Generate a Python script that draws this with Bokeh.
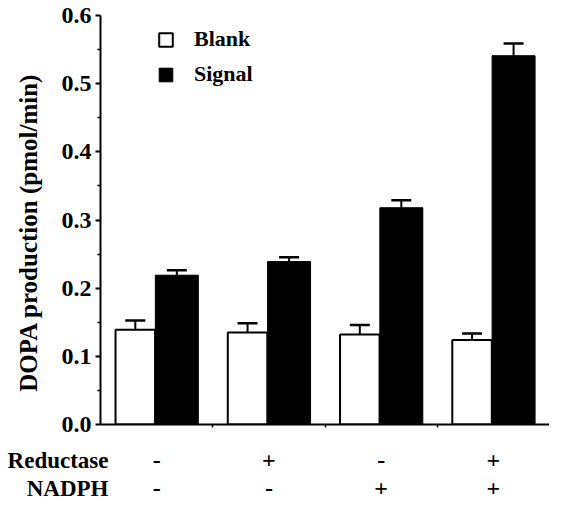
from bokeh.plotting import figure
from bokeh.layouts import column
from bokeh.models import (ColumnDataSource, Whisker, TeeHead, Legend, LegendItem,
                          FixedTicker, Range1d)
from bokeh.core.properties import value
from bokeh.embed import file_html
from bokeh.resources import INLINE

# ---- data ----
reductase = ["-", "+", "-", "+"]
nadph = ["-", "-", "+", "+"]
blank = [0.139, 0.135, 0.132, 0.124]
blank_err = [0.0135, 0.0135, 0.014, 0.0095]
signal = [0.219, 0.239, 0.318, 0.541]
signal_err = [0.0072, 0.0064, 0.011, 0.018]
yticks = [0.0, 0.1, 0.2, 0.3, 0.4, 0.5, 0.6]
yminor = [0.05, 0.15, 0.25, 0.35, 0.45, 0.55]
ytick_labels = ["0.0", "0.1", "0.2", "0.3", "0.4", "0.5", "0.6"]
row_names = ["Reductase", "NADPH"]
series_names = ["Blank", "Signal"]
y_title = "DOPA production (pmol/min)"

FONT = "Liberation Serif"
W = 549
ML, MT, MB = 100, 15, 14
FRAME_W = W - ML
FRAME_H = 409
H2 = 500 - (MT + FRAME_H + MB)

n = len(blank)
centers = [i + 0.5 for i in range(n)]
bx = [c - 0.19 for c in centers]
sx = [c + 0.18 for c in centers]

p = figure(frame_width=FRAME_W, frame_height=FRAME_H, output_backend="svg",
           toolbar_location=None,
           x_range=Range1d(0, n), y_range=Range1d(yticks[0], yticks[-1]),
           min_border_left=ML, min_border_right=0, min_border_top=MT,
           min_border_bottom=MB)
p.outline_line_color = None
p.xgrid.visible = False
p.ygrid.visible = False

src_b = ColumnDataSource(dict(x=bx, top=blank, up=[v + e for v, e in zip(blank, blank_err)]))
src_s = ColumnDataSource(dict(x=sx, top=signal, up=[v + e for v, e in zip(signal, signal_err)]))

rb = p.vbar(x="x", top="top", bottom=0, width=0.352, source=src_b,
            fill_color="white", line_color="black", line_width=2)
rs = p.vbar(x="x", top="top", bottom=0, width=0.383, source=src_s,
            fill_color="black", line_color="black", line_width=1)

for src in (src_b, src_s):
    p.add_layout(Whisker(base="x", lower="top", upper="up", source=src,
                         dimension="height", line_color="black", line_width=2,
                         lower_head=None,
                         upper_head=TeeHead(size=20, line_color="black", line_width=2.5),
                         level="overlay"))

# y axis
ya = p.yaxis[0]
ya.ticker = FixedTicker(ticks=yticks, minor_ticks=yminor)
ya.major_label_overrides = {t: l for t, l in zip(yticks, ytick_labels)}
ya.axis_line_width = 2
ya.axis_line_color = "black"
ya.major_tick_line_width = 2
ya.major_tick_out = 5
ya.major_tick_in = 0
ya.minor_tick_out = 3
ya.minor_tick_in = 0
ya.minor_tick_line_width = 1.5
ya.major_label_standoff = 4
ya.major_label_text_font = FONT
ya.major_label_text_font_style = "bold"
ya.major_label_text_font_size = "24px"
ya.major_label_text_color = "black"
ya.axis_label = y_title + "\u00a0\u00a0\u00a0\u00a0"
ya.axis_label_text_font = FONT
ya.axis_label_text_font_style = "bold"
ya.axis_label_text_font_size = "25px"
ya.axis_label_text_color = "black"
ya.axis_label_standoff = 17

# x axis
xa = p.xaxis[0]
xa.ticker = FixedTicker(ticks=[1, 2, 3], minor_ticks=[])
xa.major_label_overrides = {1: "", 2: "", 3: ""}
xa.major_label_text_font_size = "1px"
xa.major_label_standoff = 0
xa.axis_line_width = 2
xa.axis_line_color = "black"
xa.major_tick_out = 3
xa.major_tick_in = 0
xa.major_tick_line_width = 1.5
xa.minor_tick_out = 0
xa.minor_tick_in = 0

# legend
legend = Legend(items=[LegendItem(label=series_names[0], renderers=[rb]),
                       LegendItem(label=series_names[1], renderers=[rs])],
                location=(57, FRAME_H - 13 - 59), orientation="vertical",
                glyph_width=17, glyph_height=17, label_height=17,
                label_standoff=20, spacing=9,
                padding=0, margin=0, border_line_color=None, background_fill_alpha=0,
                label_text_font=FONT, label_text_font_style="bold",
                label_text_font_size="22px", label_text_color="black")
p.add_layout(legend)

# condition rows below the axis (second strip sharing the x scale)
row_y = [22, 50]
p2 = figure(width=W, height=H2, output_backend="svg", toolbar_location=None,
            x_range=p.x_range, y_range=Range1d(H2, 0),
            x_axis_type=None, min_border_left=ML, min_border_right=0,
            min_border_top=0, min_border_bottom=0)
p2.outline_line_color = None
p2.grid.visible = False
ra = p2.yaxis[0]
ra.ticker = FixedTicker(ticks=row_y, minor_ticks=[])
ra.major_label_overrides = {y: t for y, t in zip(row_y, row_names)}
ra.axis_line_color = None
ra.major_tick_line_color = None
ra.minor_tick_line_color = None
ra.major_tick_out = 0
ra.major_tick_in = 0
ra.major_label_standoff = -8
ra.major_label_text_font = FONT
ra.major_label_text_font_style = "bold"
ra.major_label_text_font_size = "23px"
ra.major_label_text_color = "black"

for row, yy in zip((reductase, nadph), row_y):
    p2.text(x=centers, y=[yy] * len(row), text=row,
            text_align="center", text_baseline="middle",
            text_font=value(FONT), text_font_style="bold", text_font_size="24px",
            text_color="black")

layout = column(p, p2, spacing=0)
open("out.html", "w").write(file_html(layout, INLINE))
